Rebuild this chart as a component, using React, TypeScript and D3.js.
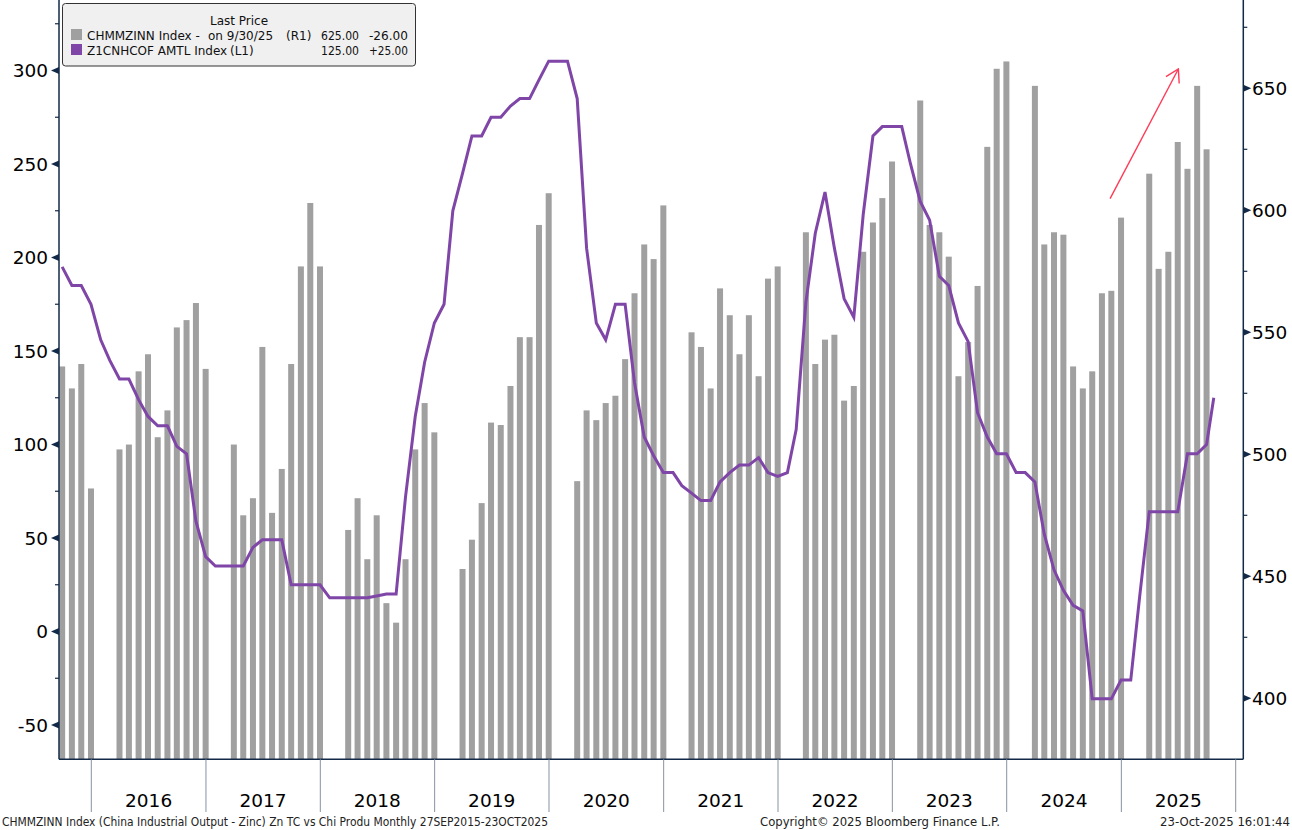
import React, { useEffect, useRef } from 'react';
import * as d3 from 'd3';

// CHMMZINN Index - China industrial output, zinc (R1). Jan/Feb not published.
const barValues = [
  // 2015 Sep-Dec
  536, 527, 537, 486,
  // 2016 Mar-Dec
  502, 504, 534, 541, 507, 518, 552, 555, 562, 535,
  // 2017
  504, 475, 482, 544, 476, 494, 537, 577, 603, 577,
  // 2018
  469, 482, 457, 475, 439, 431, 457, 502, 521, 509,
  // 2019
  453, 465, 480, 513, 512, 528, 548, 548, 594, 607,
  // 2020
  489, 518, 514, 521, 524, 539, 566, 586, 580, 602,
  // 2021
  550, 544, 527, 568, 557, 541, 557, 532, 572, 577,
  // 2022
  591, 537, 547, 549, 522, 528, 583, 595, 605, 620,
  // 2023
  645, 594, 591, 581, 532, 546, 569, 626, 658, 661,
  // 2024
  651, 586, 591, 590, 536, 527, 534, 566, 567, 597,
  // 2025 Mar-Sep
  615, 576, 583, 628, 617, 651, 625
];

// Z1CNHCOF AMTL Index - zinc TC (L1), monthly Sep 2015 - Oct 2025
const lineValues = [
  195, 185, 185, 175,
  156, 145, 135, 135, 124, 115, 110, 110, 99, 95, 59, 40,
  35, 35, 35, 35, 45, 49, 49, 49, 25, 25, 25, 25,
  18, 18, 18, 18, 18, 19, 20, 20, 72, 115, 144, 165,
  175, 225, 245, 265, 265, 275, 275, 281, 285, 285, 295, 305,
  305, 305, 285, 205, 165, 156, 175, 175, 133, 104, 94, 85,
  85, 78, 74, 70, 70, 80, 85, 89, 89, 93, 85, 83,
  85, 108, 176, 213, 235, 205, 178, 168, 223, 265, 270, 270,
  270, 250, 230, 220, 190, 185, 165, 155, 117, 104, 95, 95,
  85, 85, 80, 52, 33, 22, 14, 11, -36, -36, -36, -26,
  -26, 18, 64, 64, 64, 64, 95, 95, 100, 125
];

const yearLabels = ['2016', '2017', '2018', '2019', '2020', '2021', '2022', '2023', '2024', '2025'];
const leftTicks = [-50, 0, 50, 100, 150, 200, 250, 300];
const leftMinor = [-25, 25, 75, 125, 175, 225, 275, 325];
const rightTicks = [400, 450, 500, 550, 600, 650];
const rightMinor = [425, 475, 525, 575, 625, 675];

const legendRows = [
  { name: 'CHMMZINN Index -', extra: 'on 9/30/25', axis: '(R1)', axisX: 286, last: '625.00', chg: '-26.00', color: '#a0a0a0' },
  { name: 'Z1CNHCOF AMTL Index', extra: '', axis: '(L1)', axisX: 230, last: '125.00', chg: '+25.00', color: '#7f46a8' }
];

const FONT = "'DejaVu Sans', Tahoma, Verdana, sans-serif";
const NAVY = '#122a47';

const monthEnd = (d: Date) => d3.timeDay.offset(d3.timeMonth.offset(d, 1), -1);

const App = () => {
  const svgRef = useRef<SVGSVGElement>(null);

  useEffect(() => {
    document.body.style.margin = '0';
    if (!svgRef.current) return;
    const svg = d3.select(svgRef.current);
    svg.selectAll('*').remove();

    const width = 1292;
    const height = 830;
    const plot = { left: 59, right: 1243.3, top: 0, bottom: 759.3 };

    svg.attr('width', width).attr('height', height);

    const x = d3.scaleTime()
      .domain([new Date(2016, 0, 1), new Date(2026, 0, 1)])
      .range([91.3, 1235.7]);
    const yL = d3.scaleLinear().domain([0, 300]).range([631.5, 70.5]);
    const yR = d3.scaleLinear().domain([400, 650]).range([698.3, 88.3]);

    // dates
    const barDates = d3.timeMonth
      .range(new Date(2015, 8, 1), new Date(2025, 9, 1))
      .filter(d => d.getMonth() > 1)
      .map(monthEnd);
    const bars = barValues.map((v, i) => ({ date: barDates[i], value: v }));

    const lineDates = d3.timeMonth
      .range(new Date(2015, 8, 1), new Date(2025, 10, 1))
      .map(monthEnd);
    lineDates[lineDates.length - 1] = new Date(2025, 9, 23);
    const linePts = lineValues.map((v, i) => ({ date: lineDates[i], value: v }));

    // clip
    svg.append('defs').append('clipPath').attr('id', 'plotClip')
      .append('rect')
      .attr('x', plot.left).attr('y', plot.top)
      .attr('width', plot.right - plot.left)
      .attr('height', plot.bottom - plot.top);

    const g = svg.append('g').attr('clip-path', 'url(#plotClip)');

    // bars
    g.selectAll('.bar')
      .data(bars)
      .enter()
      .append('rect')
      .attr('class', 'bar')
      .attr('x', d => x(d.date) - 3)
      .attr('width', 6)
      .attr('y', d => yR(d.value))
      .attr('height', d => plot.bottom - yR(d.value))
      .attr('fill', '#a0a0a0');

    // TC line
    const line = d3.line<{ date: Date; value: number }>()
      .x(d => x(d.date))
      .y(d => yL(d.value));

    g.append('path')
      .datum(linePts)
      .attr('d', line)
      .attr('fill', 'none')
      .attr('stroke', '#7f46a8')
      .attr('stroke-width', 3);

    // axes lines
    const axes = svg.append('g').attr('stroke', NAVY).attr('stroke-width', 1.5);
    axes.append('line').attr('x1', plot.left).attr('x2', plot.left).attr('y1', plot.top).attr('y2', plot.bottom);
    axes.append('line').attr('x1', plot.right).attr('x2', plot.right).attr('y1', plot.top).attr('y2', plot.bottom);
    axes.append('line').attr('x1', plot.left).attr('x2', plot.right).attr('y1', plot.bottom).attr('y2', plot.bottom);

    // left axis
    svg.append('g').selectAll('line')
      .data(leftMinor)
      .enter()
      .append('line')
      .attr('x1', plot.left - 4).attr('x2', plot.left)
      .attr('y1', d => yL(d)).attr('y2', d => yL(d))
      .attr('stroke', NAVY).attr('stroke-width', 1.2);

    svg.append('g').selectAll('path')
      .data(leftTicks)
      .enter()
      .append('path')
      .attr('d', d => `M${plot.left},${yL(d) - 3.5}L${plot.left - 8},${yL(d)}L${plot.left},${yL(d) + 3.5}Z`)
      .attr('fill', NAVY);

    svg.append('g').selectAll('text')
      .data(leftTicks)
      .enter()
      .append('text')
      .attr('x', 48)
      .attr('y', d => yL(d))
      .attr('dy', '0.36em')
      .attr('text-anchor', 'end')
      .attr('font-family', FONT)
      .attr('font-size', '18.5px')
      .attr('fill', '#000')
      .text(d => d);

    // right axis
    svg.append('g').selectAll('line')
      .data(rightMinor)
      .enter()
      .append('line')
      .attr('x1', plot.right).attr('x2', plot.right + 4)
      .attr('y1', d => yR(d)).attr('y2', d => yR(d))
      .attr('stroke', NAVY).attr('stroke-width', 1.2);

    svg.append('g').selectAll('path')
      .data(rightTicks)
      .enter()
      .append('path')
      .attr('d', d => `M${plot.right},${yR(d) - 3.5}L${plot.right + 8},${yR(d)}L${plot.right},${yR(d) + 3.5}Z`)
      .attr('fill', NAVY);

    svg.append('g').selectAll('text')
      .data(rightTicks)
      .enter()
      .append('text')
      .attr('x', 1252)
      .attr('y', d => yR(d))
      .attr('dy', '0.36em')
      .attr('text-anchor', 'start')
      .attr('font-family', FONT)
      .attr('font-size', '18.5px')
      .attr('fill', '#000')
      .text(d => d);

    // x axis: year separators and labels
    const years = yearLabels.map(Number);
    const seps = [...years, years[years.length - 1] + 1];
    svg.append('g').selectAll('line')
      .data(seps)
      .enter()
      .append('line')
      .attr('x1', d => x(new Date(d, 0, 1))).attr('x2', d => x(new Date(d, 0, 1)))
      .attr('y1', plot.bottom).attr('y2', 812)
      .attr('stroke', '#8593a2').attr('stroke-width', 1);

    svg.append('g').selectAll('text')
      .data(yearLabels)
      .enter()
      .append('text')
      .attr('x', d => x(new Date(+d, 6, 2)))
      .attr('y', 806.5)
      .attr('text-anchor', 'middle')
      .attr('font-family', FONT)
      .attr('font-size', '18.5px')
      .attr('fill', '#000')
      .text(d => d);

    // red annotation arrow
    const a0 = [x(new Date(2024, 10, 26)), yR(604.8)];
    const a1 = [x(new Date(2025, 6, 2)), yR(657.9)];
    const ang = Math.atan2(a0[1] - a1[1], a0[0] - a1[0]);
    const head = 14.5;
    const spread = (31 * Math.PI) / 180;
    const arrow = svg.append('g').attr('stroke', '#ff3b57').attr('stroke-width', 1.4).attr('fill', 'none');
    arrow.append('line').attr('x1', a0[0]).attr('y1', a0[1]).attr('x2', a1[0]).attr('y2', a1[1]);
    arrow.append('path')
      .attr('d', `M${a1[0] + head * Math.cos(ang + spread)},${a1[1] + head * Math.sin(ang + spread)}L${a1[0]},${a1[1]}L${a1[0] + head * Math.cos(ang - spread)},${a1[1] + head * Math.sin(ang - spread)}`);

    // legend
    const lg = svg.append('g');
    lg.append('rect')
      .attr('x', 62.5).attr('y', 3.5).attr('width', 353).attr('height', 62.5)
      .attr('rx', 3).attr('ry', 3)
      .attr('fill', '#f0f0f0').attr('stroke', '#333').attr('stroke-width', 1);
    lg.append('text')
      .attr('x', 239).attr('y', 25)
      .attr('text-anchor', 'middle')
      .attr('font-family', FONT).attr('font-size', '12px').attr('fill', '#111')
      .text('Last Price');

    const rows = lg.selectAll('.lrow')
      .data(legendRows)
      .enter()
      .append('g')
      .attr('class', 'lrow')
      .attr('transform', (d, i) => `translate(0, ${40 + i * 15})`)
      .attr('font-family', FONT)
      .attr('font-size', '12px')
      .attr('fill', '#111');

    rows.append('rect')
      .attr('x', 71).attr('y', -11).attr('width', 11).attr('height', 11)
      .attr('fill', d => d.color);
    rows.append('text').attr('x', 87).text(d => d.name);
    rows.append('text').attr('x', 208).text(d => d.extra);
    rows.append('text').attr('x', d => d.axisX).text(d => d.axis);
    rows.append('text')
      .attr('x', 321).attr('textLength', 38).attr('lengthAdjust', 'spacingAndGlyphs')
      .text(d => d.last);
    rows.append('text')
      .attr('x', 369).attr('textLength', 39).attr('lengthAdjust', 'spacingAndGlyphs')
      .text(d => d.chg);

    // footer
    const foot = svg.append('g')
      .attr('font-family', FONT)
      .attr('font-size', '12px')
      .attr('fill', '#222');
    foot.append('text')
      .attr('x', 2).attr('y', 826)
      .attr('textLength', 546).attr('lengthAdjust', 'spacingAndGlyphs')
      .text('CHMMZINN Index (China Industrial Output - Zinc) Zn TC vs Chi Produ Monthly 27SEP2015-23OCT2025');
    foot.append('text')
      .attr('x', 760).attr('y', 826)
      .attr('textLength', 240).attr('lengthAdjust', 'spacingAndGlyphs')
      .text('Copyright\u00a9 2025 Bloomberg Finance L.P.');
    foot.append('text')
      .attr('x', 1160).attr('y', 826)
      .attr('textLength', 130).attr('lengthAdjust', 'spacingAndGlyphs')
      .text('23-Oct-2025 16:01:44');
  }, []);

  return (
    <div style={{ width: 1292, height: 830, overflow: 'hidden', background: '#fff' }}>
      <svg ref={svgRef} style={{ display: 'block' }}></svg>
    </div>
  );
};

export default App;
